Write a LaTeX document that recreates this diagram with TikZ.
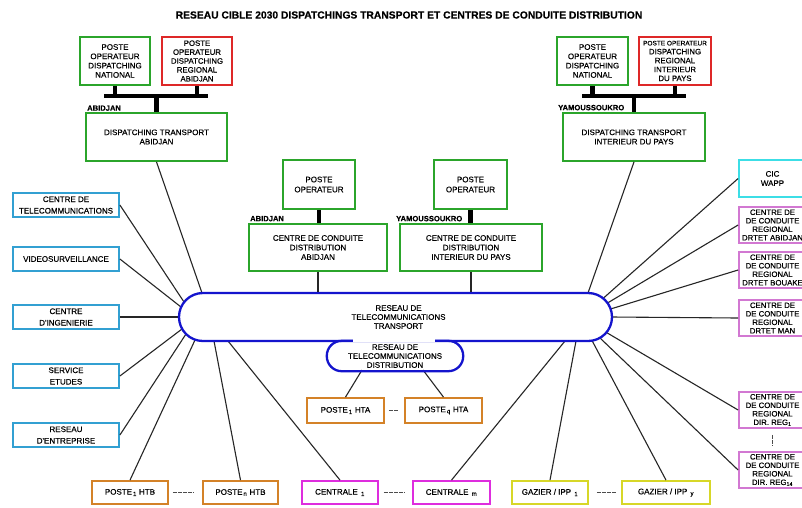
\documentclass[tikz,border=0pt]{standalone}
\usepackage{fontspec}
\setmainfont{Liberation Sans}[FakeBold=0.35]
\usetikzlibrary{calc}
\definecolor{grn}{RGB}{43,165,43}
\definecolor{rd}{RGB}{222,40,40}
\definecolor{sky}{RGB}{50,160,210}
\definecolor{cyn}{RGB}{60,222,230}
\definecolor{pnk}{RGB}{210,120,210}
\definecolor{mag}{RGB}{222,45,222}
\definecolor{org}{RGB}{212,130,40}
\definecolor{ylw}{RGB}{215,215,40}
\definecolor{netblue}{RGB}{20,20,205}
\newfontfamily\dkfont{Liberation Sans}[FakeBold=0.35]
\newcommand\bxfont{\dkfont\fontsize{8}{9.3}\selectfont}
\begin{document}
\begin{tikzpicture}[x=1pt,y=-1pt,
  box/.style={draw, line width=1.8pt, rectangle, align=center, inner sep=0pt, font=\bxfont, text=black},
  sidebox/.style={box, draw=sky, minimum width=106pt, minimum height=24pt, font=\dkfont\fontsize{8}{11.5}\selectfont},
  regbox/.style={box, draw=pnk, minimum width=67pt, minimum height=36pt, font=\dkfont\fontsize{7.8}{8.5}\selectfont},
  botbox/.style={box, minimum height=23pt},
  bus/.style={line width=4.5pt, black},
  link/.style={line width=1.1pt, black!85},
  sep/.style={line width=0.8pt, dash pattern=on 1.6pt off 0.9pt, black!70},
  lbl/.style={font=\fontsize{7.6}{9}\selectfont\bfseries, inner sep=0pt},
  net/.style={draw=netblue, line width=2.3pt}]
\useasboundingbox (0,0) rectangle (802,507);
\fill[white] (0,0) rectangle (802,507);

% title
\node[font=\fontsize{10.3}{12}\selectfont\bfseries] (title) at (409,15)
  {RESEAU CIBLE 2030 DISPATCHINGS TRANSPORT ET CENTRES DE CONDUITE DISTRIBUTION};

% ---- dispatching transport Abidjan
\node[box, draw=grn, minimum width=70pt, minimum height=48pt] (natA) at (115,61)
  {POSTE\\OPERATEUR\\DISPATCHING\\NATIONAL};
\node[box, draw=rd, minimum width=70pt, minimum height=48pt, font=\dkfont\fontsize{7.8}{8.9}\selectfont] (regA) at (197,61)
  {POSTE\\OPERATEUR\\DISPATCHING\\REGIONAL\\ABIDJAN};
\node[box, draw=grn, minimum width=141pt, minimum height=48pt] (dta) at (156.5,137)
  {DISPATCHING TRANSPORT\\ABIDJAN};
\coordinate (barAl) at (104,96);
\coordinate (barAr) at (208,96);
\draw[bus] (barAl) -- (barAr);
\draw[bus] (natA.south) -- (natA.south |- barAl);
\draw[bus] (regA.south) -- (regA.south |- barAl);
\draw[bus] (dta.north) -- (dta.north |- barAl);
\node[lbl, anchor=south west] (labA1) at (87,111) {ABIDJAN};

% ---- dispatching transport interieur
\node[box, draw=grn, minimum width=71pt, minimum height=48pt] (natY) at (592.5,61)
  {POSTE\\OPERATEUR\\DISPATCHING\\NATIONAL};
\node[box, draw=rd, minimum width=72pt, minimum height=48pt, font=\dkfont\fontsize{7.8}{8.9}\selectfont] (regY) at (675,61)
  {{\fontsize{6.5}{8.9}\selectfont POSTE OPERATEUR}\\DISPATCHING\\REGIONAL\\INTERIEUR\\DU PAYS};
\node[box, draw=grn, minimum width=142pt, minimum height=48pt] (dti) at (634,137)
  {DISPATCHING TRANSPORT\\INTERIEUR DU PAYS};
\coordinate (barYl) at (582,96);
\coordinate (barYr) at (686,96);
\draw[bus] (barYl) -- (barYr);
\draw[bus] (natY.south) -- (natY.south |- barYl);
\draw[bus] (regY.south) -- (regY.south |- barYl);
\draw[bus] (dti.north) -- (dti.north |- barYl);
\node[lbl, anchor=south west] (labY1) at (558,110.5) {YAMOUSSOUKRO};

% ---- centres de conduite distribution
\node[box, draw=grn, minimum width=72pt, minimum height=49pt, font=\dkfont\fontsize{8}{10}\selectfont] (popA) at (319,184.5)
  {POSTE\\OPERATEUR};
\node[box, draw=grn, minimum width=138pt, minimum height=47pt, font=\dkfont\fontsize{8}{9.5}\selectfont] (ccdA) at (318,247.5)
  {CENTRE DE CONDUITE\\DISTRIBUTION\\ABIDJAN};
\node[box, draw=grn, minimum width=73pt, minimum height=49pt, font=\dkfont\fontsize{8}{10}\selectfont] (popY) at (470.5,184.5)
  {POSTE\\OPERATEUR};
\node[box, draw=grn, minimum width=142pt, minimum height=47pt, font=\dkfont\fontsize{8}{9.5}\selectfont] (ccdY) at (471,247.5)
  {CENTRE DE CONDUITE\\DISTRIBUTION\\INTERIEUR DU PAYS};
\draw[bus] (popA.south) -- (popA.south |- ccdA.north);
\draw[bus] (popY.south) -- (popY.south |- ccdY.north);
\node[lbl, anchor=south west] (labA2) at (250,221.5) {ABIDJAN};
\node[lbl, anchor=south west] (labY2) at (396,221.5) {YAMOUSSOUKRO};

% ---- left column
\node[sidebox] (tel) at (66,205) {CENTRE DE\\TELECOMMUNICATIONS};
\node[sidebox] (vid) at (66,259) {VIDEOSURVEILLANCE};
\node[sidebox] (ing) at (66,317) {CENTRE\\D'INGENIERIE};
\node[sidebox] (etu) at (66,376) {SERVICE\\ETUDES};
\node[sidebox] (ent) at (66,435) {RESEAU\\D'ENTREPRISE};

% ---- right column
\node[box, draw=cyn, minimum width=67pt, minimum height=37pt] (cic) at (772.5,178.5) {CIC\\WAPP};
\node[regbox] (rabj) at (772.5,225) {CENTRE DE\\DE CONDUITE\\REGIONAL\\DRTET ABIDJAN};
\node[regbox] (rbou) at (772.5,270) {CENTRE DE\\DE CONDUITE\\REGIONAL\\DRTET BOUAKE};
\node[regbox] (rman) at (772.5,318) {CENTRE DE\\DE CONDUITE\\REGIONAL\\DRTET MAN};
\node[regbox] (reg1) at (772.5,410) {CENTRE DE\\DE CONDUITE\\REGIONAL\\DIR. REG\textsubscript{1}};
\node[regbox] (reg14) at (772.5,470) {CENTRE DE\\DE CONDUITE\\REGIONAL\\DIR. REG\textsubscript{14}};
\draw[sep, shorten <=6pt, shorten >=5pt] (reg1.south) -- (reg14.north);

% ---- bottom row
\node[botbox, draw=org, minimum width=76pt] (htb1) at (130,492.5) {POSTE\textsubscript{\,1} HTB};
\node[botbox, draw=org, minimum width=75pt] (htbn) at (240.5,492.5) {POSTE\textsubscript{\,n} HTB};
\node[botbox, draw=mag, minimum width=76pt] (cen1) at (340,492.5) {CENTRALE \textsubscript{\,1}};
\node[botbox, draw=mag, minimum width=77pt] (cenm) at (451.5,492.5) {CENTRALE \textsubscript{\,m}};
\node[botbox, draw=ylw, minimum width=76pt] (gaz1) at (550,492.5) {GAZIER / IPP \textsubscript{\,1}};
\node[botbox, draw=ylw, minimum width=88pt] (gazy) at (666,492.5) {GAZIER / IPP \textsubscript{\,y}};
\draw[sep, shorten <=4pt, shorten >=8pt] (htb1.east) -- (htbn.west);
\draw[sep, shorten <=5pt, shorten >=8pt] (cen1.east) -- (cenm.west);
\draw[sep, shorten <=8pt, shorten >=5pt] (gaz1.east) -- (gazy.west);

% ---- HTA stations
\node[botbox, draw=org, minimum width=77pt, minimum height=25pt] (hta1) at (345.5,410.5) {POSTE\textsubscript{\,1} HTA};
\node[botbox, draw=org, minimum width=77pt, minimum height=25pt] (htaq) at (443.5,410.5) {POSTE\textsubscript{\,q} HTA};
\draw[sep, shorten <=4pt, shorten >=6pt] (hta1.east) -- (htaq.west);

% ---- attachment points on the transport network
\coordinate (tl0) at (202,293);
\coordinate (tl1) at (184,302);
\coordinate (tl2) at (181,307);
\coordinate (tl3) at (179,317);
\coordinate (tl4) at (182,329);
\coordinate (tl5) at (186,334);
\coordinate (tl6) at (195,340);
\coordinate (tl7) at (214,341);
\coordinate (tl8) at (228,341);
\coordinate (tr0) at (588,293);
\coordinate (tr1) at (603,298.5);
\coordinate (tr2) at (607.5,303);
\coordinate (tr3) at (610.5,309);
\coordinate (tr4) at (612,317);
\coordinate (tr5) at (606.5,332.5);
\coordinate (tr6) at (600,338);
\coordinate (tr7) at (592,340.5);
\coordinate (tr8) at (576,341);
\coordinate (tr9) at (565,341);
\coordinate (td1) at (362,370);
\coordinate (td2) at (423,370);

% ---- links
\draw[link] (dta.south) -- (tl0);
\draw[link] (tel.east) -- (tl1);
\draw[link] (vid.east) -- (tl2);
\draw[link] (ing.east) -- (tl3);
\draw[link] (etu.east) -- (tl4);
\draw[link] (ent.east) -- (tl5);
\draw[link] (htb1.north) -- (tl6);
\draw[link] (htbn.north) -- (tl7);
\draw[link] (cen1.north) -- (tl8);
\draw[link] (dti.south) -- (tr0);
\draw[link] (cic.west) -- (tr1);
\draw[link] (rabj.west) -- (tr2);
\draw[link] (rbou.west) -- (tr3);
\draw[link] (rman.west) -- (tr4);
\draw[link] (reg1.west) -- (tr5);
\draw[link] (reg14.west) -- (tr6);
\draw[link] (gazy.north) -- (tr7);
\draw[link] (gaz1.north) -- (tr8);
\draw[link] (cenm.north) -- (tr9);
\draw[link] (hta1.north) -- (td1);
\draw[link] (htaq.north) -- (td2);

% ---- telecom networks
\node[net, fill=white, rectangle, rounded corners=23.9pt, minimum width=433pt, minimum height=48pt,
      align=center, font=\dkfont\fontsize{8}{9}\selectfont] (transport) at (395.5,317)
  {\hspace*{6pt}RESEAU DE\\\hspace*{6pt}TELECOMMUNICATIONS\\\hspace*{6pt}TRANSPORT};
\draw[link] (ccdA.south) -- (ccdA.south |- transport.north);
\draw[link] (ccdY.south) -- (ccdY.south |- transport.north);

\node[minimum width=136pt, minimum height=30pt, inner sep=0pt, align=center,
      font=\dkfont\fontsize{8}{9}\selectfont] (distrib) at (395,356)
  {RESEAU DE\\TELECOMMUNICATIONS\\DISTRIBUTION};
\fill[white] ($(distrib.north west)+(26,-1.7)$) rectangle ($(distrib.north east)+(-28,1.6)$);
\draw[net, rounded corners=14.9pt] ($(distrib.north west)+(26,0)$) -- (distrib.north west)
  -- (distrib.south west) -- (distrib.south east) -- (distrib.north east) -- ($(distrib.north east)+(-28,0)$);
\end{tikzpicture}
\end{document}
